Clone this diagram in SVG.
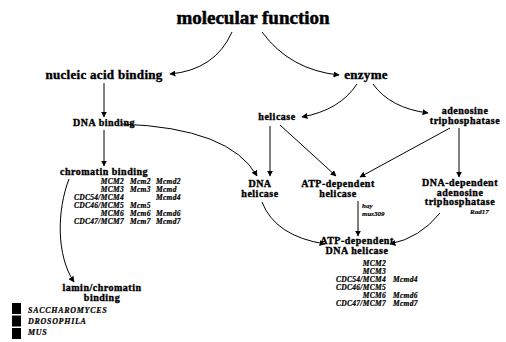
<svg xmlns="http://www.w3.org/2000/svg" width="506" height="342" viewBox="0 0 506 342">
<style>
text{font-family:"Liberation Serif","Times New Roman",serif;fill:#000;font-weight:bold}
.t{font-size:19px;stroke:#000;stroke-width:0.5}
.big{font-size:13px;stroke:#000;stroke-width:0.4;letter-spacing:0.3px}
.n{font-size:10px;stroke:#000;stroke-width:0.35;letter-spacing:0.5px}
.g{font-size:7.5px;font-style:italic;letter-spacing:0.3px;stroke:#000;stroke-width:0.2}
.s{font-size:7px;font-style:italic;stroke:#000;stroke-width:0.15}
.l{font-size:8px;font-style:italic;letter-spacing:0.7px;stroke:#000;stroke-width:0.2}
.m{text-anchor:middle}
.r{text-anchor:end}
.e path{fill:none;stroke:#000;stroke-width:1}
</style>
<defs>
<marker id="ah" viewBox="0 0 10 10" refX="9" refY="5" markerWidth="6" markerHeight="6" orient="auto" markerUnits="userSpaceOnUse">
<path d="M0,0 L10,5 L0,10 z" fill="#000"/>
</marker>
</defs>
<rect width="506" height="342" fill="#fff"/>
<g id="n_molecular_function"><text class="t m" x="253" y="24">molecular function</text></g>
<g id="n_nucleic_acid_binding"><text class="big m" x="104" y="79">nucleic acid binding</text></g>
<g id="n_enzyme"><text class="big m" x="366" y="79">enzyme</text></g>
<g id="n_dna_binding"><text class="n m" x="104" y="126">DNA binding</text></g>
<g id="n_helicase"><text class="n m" x="277" y="120">helicase</text></g>
<g id="n_atpase"><text class="n m" x="465" y="114">adenosine</text><text class="n m" x="465" y="124">triphosphatase</text></g>
<g id="n_chromatin_binding">
<text class="n m" x="104" y="175">chromatin binding</text>
<text class="g r" x="124" y="184">MCM2</text><text class="g" x="130" y="184">Mcm2</text><text class="g" x="156" y="184">Mcmd2</text>
<text class="g r" x="124" y="192">MCM3</text><text class="g" x="130" y="192">Mcm3</text><text class="g" x="156" y="192">Mcmd</text>
<text class="g r" x="124" y="200">CDC54/MCM4</text><text class="g" x="156" y="200">Mcmd4</text>
<text class="g r" x="124" y="208">CDC46/MCM5</text><text class="g" x="130" y="208">Mcm5</text>
<text class="g r" x="124" y="216">MCM6</text><text class="g" x="130" y="216">Mcm6</text><text class="g" x="156" y="216">Mcmd6</text>
<text class="g r" x="124" y="224">CDC47/MCM7</text><text class="g" x="130" y="224">Mcm7</text><text class="g" x="156" y="224">Mcmd7</text>
</g>
<g id="n_lamin_chromatin_binding"><text class="n m" x="102" y="291">lamin/chromatin</text><text class="n m" x="102" y="301">binding</text></g>
<g id="n_dna_helicase"><text class="n m" x="260" y="187">DNA</text><text class="n m" x="260" y="197">helicase</text></g>
<g id="n_atp_dependent_helicase"><text class="n m" x="338" y="187">ATP-dependent</text><text class="n m" x="338" y="197">helicase</text>
<text class="s" x="362" y="208">hay</text><text class="s" x="362" y="216">mus309</text></g>
<g id="n_dna_dependent_atpase"><text class="n m" x="460" y="186">DNA-dependent</text><text class="n m" x="460" y="195.5">adenosine</text><text class="n m" x="460" y="205">triphosphatase</text>
<text class="s" x="470" y="214">Rad17</text></g>
<g id="n_atp_dependent_dna_helicase"><text class="n m" x="357" y="244">ATP-dependent</text><text class="n m" x="357" y="254">DNA helicase</text>
<text class="g r" x="386" y="266">MCM2</text>
<text class="g r" x="386" y="274">MCM3</text>
<text class="g r" x="386" y="282">CDC54/MCM4</text><text class="g" x="393" y="282">Mcmd4</text>
<text class="g r" x="386" y="290">CDC46/MCM5</text>
<text class="g r" x="386" y="298">MCM6</text><text class="g" x="393" y="298">Mcmd6</text>
<text class="g r" x="386" y="306">CDC47/MCM7</text><text class="g" x="393" y="306">Mcmd7</text>
</g>
<g id="legend">
<rect x="12" y="303" width="9" height="11" fill="#000"/>
<rect x="12" y="315.5" width="9" height="11" fill="#000"/>
<rect x="12" y="328" width="9" height="11" fill="#000"/>
<text class="l" x="28" y="313">SACCHAROMYCES</text>
<text class="l" x="28" y="324">DROSOPHILA</text>
<text class="l" x="28" y="335">MUS</text>
</g>
<g id="connectors" class="e">
<path d="M232 32 Q215 70 170 74" marker-end="url(#ah)"/>
<path d="M262 32 Q290 70 339 75" marker-end="url(#ah)"/>
<path d="M104 83 L104 117" marker-end="url(#ah)"/>
<path d="M122 124 Q230 128 257 176" marker-end="url(#ah)"/>
<path d="M104 130 L104 166" marker-end="url(#ah)"/>
<path d="M69 179 C57 210 56 255 74 282" marker-end="url(#ah)"/>
<path d="M357 84 Q340 110 302 117" marker-end="url(#ah)"/>
<path d="M373 84 Q390 108 428 113" marker-end="url(#ah)"/>
<path d="M270 126 L270 176" marker-end="url(#ah)"/>
<path d="M280 125 L336 176" marker-end="url(#ah)"/>
<path d="M450 128 L360 177" marker-end="url(#ah)"/>
<path d="M459 128 L459 177" marker-end="url(#ah)"/>
<path d="M358 201 L358 236" marker-end="url(#ah)"/>
<path d="M262 202 Q275 236 325 244" marker-end="url(#ah)"/>
<path d="M440 213 Q420 238 390 244" marker-end="url(#ah)"/>
</g>
</svg>
